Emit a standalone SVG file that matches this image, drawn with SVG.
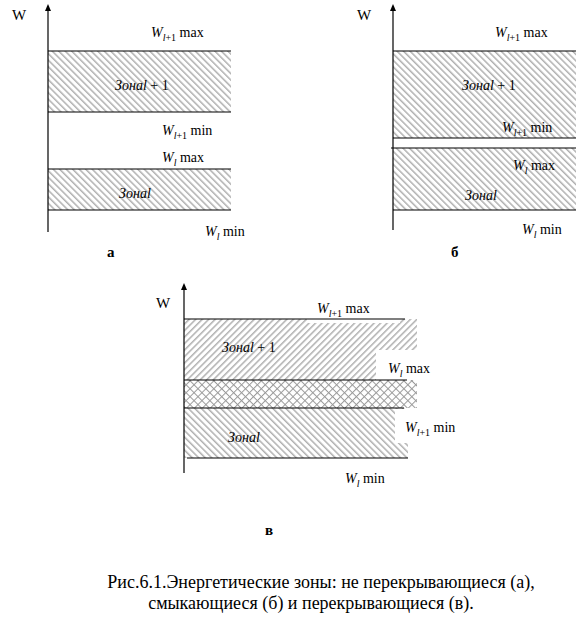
<svg xmlns="http://www.w3.org/2000/svg" width="582" height="621" viewBox="0 0 582 621">
<style>
text{font-family:"Liberation Serif","Times New Roman",serif;fill:#000}
.lab{font-size:14px}
.it{font-style:italic}
.sub{font-size:10px}
.ax{font-size:15px}
.bold{font-size:15px;font-weight:bold}
.cap{font-size:18px}
.ln{stroke:#000;stroke-width:1.2;fill:none}
</style>
<defs>
<pattern id="hb" patternUnits="userSpaceOnUse" width="4.6" height="4.6" patternTransform="rotate(-45)">
<rect x="0" y="0" width="1.5" height="4.6" fill="#b0b0b0"/>
</pattern>
<pattern id="hf" patternUnits="userSpaceOnUse" width="4.6" height="4.6" patternTransform="rotate(45)">
<rect x="0" y="0" width="1.5" height="4.6" fill="#b0b0b0"/>
</pattern>
<pattern id="hx" patternUnits="userSpaceOnUse" width="5.6" height="5.6" patternTransform="rotate(45)">
<rect x="0" y="0" width="1" height="5.6" fill="#999"/>
<rect x="0" y="0" width="5.6" height="1" fill="#999"/>
</pattern>
</defs>

<g id="diagram-a">
<rect x="48" y="51" width="183" height="61" fill="url(#hb)"/>
<rect x="48" y="169" width="183" height="41" fill="url(#hb)"/>
<g id="a-lines">
<line class="ln" x1="48" y1="10" x2="48" y2="232"/>
<polygon points="48,4 45,11 51,11" fill="#000"/>
<line class="ln" x1="48" y1="51" x2="231" y2="51"/>
<line class="ln" x1="48" y1="112" x2="231" y2="112"/>
<line class="ln" x1="48" y1="169" x2="231" y2="169"/>
<line class="ln" x1="48" y1="210" x2="231" y2="210"/>
</g>
<text class="ax" x="12" y="20">W</text>
<text class="lab" x="151" y="37"><tspan class="it">W</tspan><tspan class="sub it" dy="4">l</tspan><tspan class="sub">+1</tspan><tspan dy="-4"> max</tspan></text>
<text class="lab" x="115" y="90"><tspan class="it">Зонаl</tspan> + 1</text>
<text class="lab" x="162" y="135"><tspan class="it">W</tspan><tspan class="sub it" dy="4">l</tspan><tspan class="sub">+1</tspan><tspan dy="-4"> min</tspan></text>
<text class="lab" x="162" y="162"><tspan class="it">W</tspan><tspan class="sub it" dy="4">l</tspan><tspan dy="-4"> max</tspan></text>
<text class="lab it" x="119" y="198">Зонаl</text>
<text class="lab" x="205" y="236"><tspan class="it">W</tspan><tspan class="sub it" dy="4">l</tspan><tspan dy="-4"> min</tspan></text>
<text class="bold" x="107" y="257">а</text>
</g>

<g id="diagram-b">
<rect x="393" y="51" width="183" height="87" fill="url(#hb)"/>
<rect x="393" y="148" width="183" height="62" fill="url(#hb)"/>
<g id="b-lines">
<line class="ln" x1="393" y1="10" x2="393" y2="230"/>
<polygon points="393,4 390,11 396,11" fill="#000"/>
<line class="ln" x1="393" y1="51" x2="576" y2="51"/>
<line class="ln" x1="393" y1="138" x2="576" y2="138"/>
<line class="ln" x1="391" y1="148" x2="576" y2="148"/>
<line class="ln" x1="393" y1="210" x2="576" y2="210"/>
</g>
<text class="ax" x="357" y="20">W</text>
<text class="lab" x="495" y="37"><tspan class="it">W</tspan><tspan class="sub it" dy="4">l</tspan><tspan class="sub">+1</tspan><tspan dy="-4"> max</tspan></text>
<text class="lab" x="462" y="90"><tspan class="it">Зонаl</tspan> + 1</text>
<text class="lab" x="502" y="132"><tspan class="it">W</tspan><tspan class="sub it" dy="4">l</tspan><tspan class="sub">+1</tspan><tspan dy="-4"> min</tspan></text>
<text class="lab" x="513" y="170"><tspan class="it">W</tspan><tspan class="sub it" dy="4">l</tspan><tspan dy="-4"> max</tspan></text>
<text class="lab it" x="465" y="200">Зонаl</text>
<text class="lab" x="522" y="234"><tspan class="it">W</tspan><tspan class="sub it" dy="4">l</tspan><tspan dy="-4"> min</tspan></text>
<text class="bold" x="451" y="257">б</text>
</g>

<g id="diagram-c">
<rect x="184" y="319" width="233" height="61" fill="url(#hf)"/>
<rect x="184" y="380" width="233" height="28" fill="url(#hx)"/>
<rect x="184" y="408" width="224" height="50" fill="url(#hb)"/>
<rect x="307" y="296" width="93" height="27" fill="#fff"/>
<rect x="376" y="350" width="64" height="30" fill="#fff"/>
<rect x="395" y="409" width="75" height="34" fill="#fff"/>
<g id="c-lines">
<line class="ln" x1="184" y1="289" x2="184" y2="473"/>
<polygon points="184,283 181,290 187,290" fill="#000"/>
<line class="ln" x1="184" y1="319" x2="405" y2="319"/>
<line class="ln" x1="184" y1="380" x2="407" y2="380"/>
<line class="ln" x1="184" y1="408" x2="404" y2="408"/>
<line class="ln" x1="187" y1="458" x2="408" y2="458"/>
</g>
<text class="ax" x="156" y="308">W</text>
<text class="lab" x="317" y="313"><tspan class="it">W</tspan><tspan class="sub it" dy="4">l</tspan><tspan class="sub">+1</tspan><tspan dy="-4"> max</tspan></text>
<text class="lab" x="222" y="352"><tspan class="it">Зонаl</tspan> + 1</text>
<text class="lab" x="388" y="373"><tspan class="it">W</tspan><tspan class="sub it" dy="4">l</tspan><tspan dy="-4"> max</tspan></text>
<text class="lab" x="405" y="432"><tspan class="it">W</tspan><tspan class="sub it" dy="4">l</tspan><tspan class="sub">+1</tspan><tspan dy="-4"> min</tspan></text>
<text class="lab it" x="228" y="442">Зонаl</text>
<text class="lab" x="345" y="483"><tspan class="it">W</tspan><tspan class="sub it" dy="4">l</tspan><tspan dy="-4"> min</tspan></text>
<text class="bold" x="265" y="535">в</text>
</g>

<g id="caption">
<text class="cap" x="321" y="588" text-anchor="middle">Рис.6.1.Энергетические зоны: не перекрывающиеся (а),</text>
<text class="cap" x="311" y="609" text-anchor="middle">смыкающиеся (б) и  перекрывающиеся (в).</text>
</g>
</svg>
